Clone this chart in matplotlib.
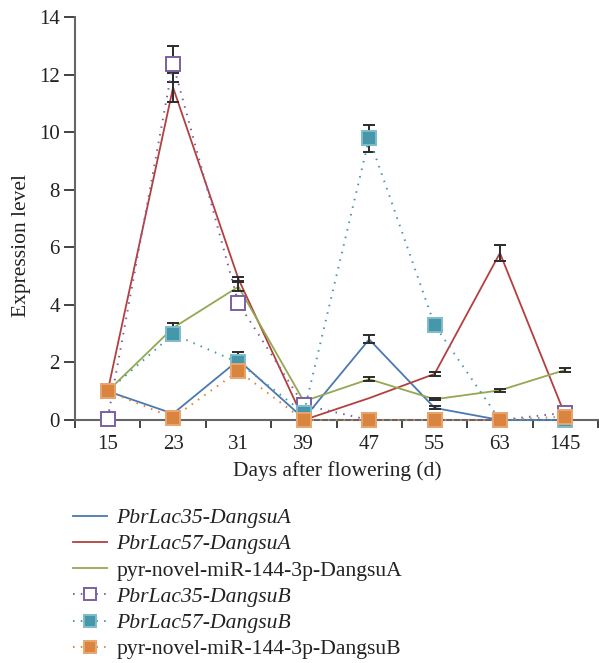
import numpy as np
import matplotlib
matplotlib.use("Agg")
import matplotlib.pyplot as plt
from matplotlib.lines import Line2D

plt.rcParams['font.family'] = ['Liberation Serif', 'DejaVu Serif']

# days after flowering (categorical axis)
days = ['15', '23', '31', '39', '47', '55', '63', '145']

# Dangsu A (solid lines)
lac35_a = [1.0, 0.22, 2.08, 0.05, 2.8, 0.42, 0.0, 0.0]
lac57_a = [1.0, 11.55, 4.9, 0.0, 0.76, 1.6, 5.8, 0.15]
mir_a = [1.0, 3.2, 4.63, 0.65, 1.42, 0.72, 1.03, 1.74]
lac35_a_err = [0, 0, 0.28, 0, 0.14, 0.05, 0, 0]
lac57_a_err = [0, 0.5, 0.08, 0.05, 0, 0.06, 0.28, 0]
mir_a_err = [0, 0.17, 0.15, 0, 0.06, 0.04, 0.04, 0.07]

# Dangsu B (dotted lines with square markers)
lac35_b = [0.05, 12.37, 4.06, 0.52, 0.0, 0.0, 0.0, 0.25]
lac57_b = [1.0, 2.98, 2.0, 0.25, 9.79, 3.3, 0.0, 0.0]
mir_b = [1.0, 0.08, 1.7, 0.0, 0.0, 0.0, 0.0, 0.12]
lac35_b_err = [0, 0.62, 0, 0, 0, 0, 0, 0]
lac57_b_err = [0, 0, 0, 0, 0.47, 0, 0, 0]
mir_b_err = [0, 0, 0, 0, 0, 0, 0, 0]

labels = ['PbrLac35-DangsuA', 'PbrLac57-DangsuA', 'pyr-novel-miR-144-3p-DangsuA',
          'PbrLac35-DangsuB', 'PbrLac57-DangsuB', 'pyr-novel-miR-144-3p-DangsuB']

c_blue = '#4a78b2'
c_red = '#b3403f'
c_green = '#93a852'
c_purple = '#7b5fa3'
c_teal = '#4797aa'
c_orange = '#d9843f'
fs = 15

fig = plt.figure(figsize=(5.99, 6.63), dpi=100)
ax = fig.add_axes([75 / 599, 243 / 663, 523 / 599, 403 / 663])
x = np.arange(len(days))


def err(vals, errs, z):
    vals = np.array(vals)
    errs = np.array(errs)
    m = errs > 0
    if m.any():
        ax.errorbar(x[m], vals[m], yerr=errs[m], fmt='none', ecolor='#2b2b2b',
                    elinewidth=1.4, capsize=4.5, capthick=1.4, zorder=z)


# solid A series
for vals, errs, c in [(lac35_a, lac35_a_err, c_blue),
                      (lac57_a, lac57_a_err, c_red),
                      (mir_a, mir_a_err, c_green)]:
    ax.plot(x, vals, color=c, lw=1.3, zorder=3, clip_on=False)
    err(vals, errs, 4)

# dotted B series
b_styles = [(lac35_b, lac35_b_err, c_purple, 'white', c_purple),
            (lac57_b, lac57_b_err, c_teal, c_teal, '#7fbccb'),
            (mir_b, mir_b_err, c_orange, c_orange, '#e9a56f')]
for i, (vals, errs, c, fc, ec) in enumerate(b_styles):
    err(vals, errs, 5 + i)
    ax.plot(x, vals, color=c, lw=1.4, ls=(0, (0.8, 3.2)), zorder=5 + i, clip_on=False)
    ax.plot(x, vals, ls='none', marker='s', ms=9.5, mfc=fc, mec=ec, mew=1.4,
            zorder=5.5 + i, clip_on=False)

ax.set_xlim(-0.5, 7.5)
ax.set_ylim(0, 14)
ax.set_yticks(np.arange(0, 15, 2))
ax.set_xticks(x)
ax.set_xticklabels(days)
ax.set_xticks(np.arange(-0.5, 8, 1), minor=True)
ax.tick_params(axis='x', which='major', length=0, pad=11, labelsize=fs)
ax.tick_params(axis='x', which='minor', length=6, width=1.2, direction='out', color='#555555')
ax.tick_params(axis='y', length=8, width=1.2, direction='out', color='#555555', labelsize=fs, pad=3)
for s in ['top', 'right']:
    ax.spines[s].set_visible(False)
for s in ['left', 'bottom']:
    ax.spines[s].set_color('#666666')
    ax.spines[s].set_linewidth(1.5)
ax.tick_params(colors='#222222', which='both')

ax.set_xlabel('Days after flowering (d)', fontsize=fs + 0.5, color='#222222')
ax.xaxis.set_label_coords(262 / 523, -41 / 403)
ax.set_ylabel('Expression level', fontsize=fs + 0.5, color='#222222')
ax.yaxis.set_label_coords(-44 / 523, 175 / 403)

handles = [
    Line2D([], [], color=c_blue, lw=1.3),
    Line2D([], [], color=c_red, lw=1.3),
    Line2D([], [], color=c_green, lw=1.3),
    Line2D([], [], color=c_purple, lw=1.4, ls=(0, (0.8, 3.2)), marker='s', ms=8.5,
           mfc='white', mec=c_purple, mew=1.4),
    Line2D([], [], color=c_teal, lw=1.4, ls=(0, (0.8, 3.2)), marker='s', ms=8.5,
           mfc=c_teal, mec='#7fbccb', mew=1.4),
    Line2D([], [], color=c_orange, lw=1.4, ls=(0, (0.8, 3.2)), marker='s', ms=8.5,
           mfc=c_orange, mec='#e9a56f', mew=1.4),
]
leg = fig.legend(handles, labels, loc='upper left', bbox_to_anchor=(73 / 599, 1 - 508 / 663),
                 frameon=False, fontsize=fs + 0.6, handlelength=1.55, handletextpad=0.45,
                 labelspacing=0.28, borderaxespad=0, borderpad=0)
for t in leg.get_texts():
    t.set_color('#222222')
    if t.get_text().startswith('Pbr'):
        t.set_fontstyle('italic')

fig.savefig('out.png', dpi=100)
